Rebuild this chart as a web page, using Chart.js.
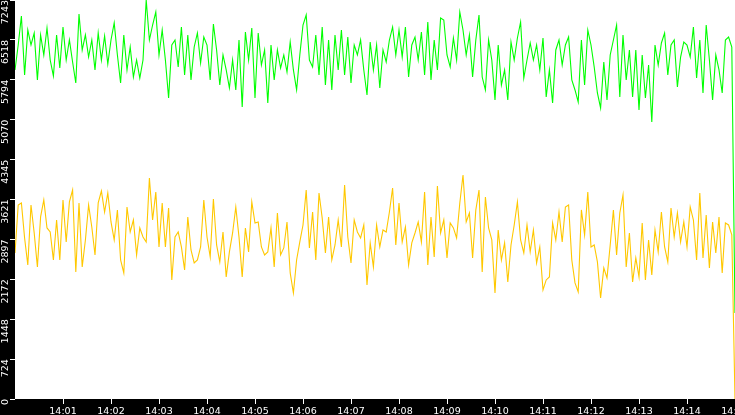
<!DOCTYPE html>
<html>
<head>
<meta charset="utf-8">
<script src="https://cdn.jsdelivr.net/npm/chart.js@4"></script>
<style>
  html, body { margin: 0; padding: 0; background: #000; overflow: hidden; }
  #wrap { width: 760px; height: 415px; position: relative; }
</style>
</head>
<body>
<div id="wrap"><canvas id="chart"></canvas></div>
<script>
// one sample every 4 s, 14:00:00 -> 14:15:00
const STEP_SECONDS = 4;
const Y_MAX = 7243;

const Y_TICK_LABELS = ['0','724','1448','2172','2897','3621','4345','5070','5794','6518','7243'];
const X_TICK_SECONDS = [60,120,180,240,300,360,420,480,540,600,660,720,780,840,900];
const X_TICK_LABELS = ['14:01','14:02','14:03','14:04','14:05','14:06','14:07','14:08','14:09','14:10','14:11','14:12','14:13','14:14','14:15'];

const GREEN_VALUES = [
  5973, 6426, 6953, 5882, 6698, 6426, 6644, 5791, 6608, 6245,
  6735, 6154, 5864, 6608, 6009, 6753, 6154, 6517, 6118, 5737,
  6989, 6336, 6608, 6208, 6517, 5973, 6644, 6154, 6590, 6081,
  6517, 6826, 6245, 5737, 6608, 5973, 6390, 5845, 6154, 5827,
  6154, 7243, 6517, 6789, 7025, 6245, 6698, 6154, 5464, 6426,
  6517, 6027, 6753, 5882, 6608, 5791, 6390, 6644, 6100, 6571,
  6426, 5791, 6807, 6336, 5700, 6245, 5973, 5646, 6154, 5610,
  6517, 5301, 6662, 6154, 6735, 5464, 6644, 6063, 6336, 5374,
  6426, 5791, 6336, 6009, 6245, 5936, 6481, 5973, 5610, 6245,
  6789, 6971, 6154, 6027, 6608, 5882, 6753, 5700, 6517, 5610,
  6608, 5973, 6698, 5882, 6571, 5737, 6426, 6245, 6517, 5973,
  5519, 6481, 5973, 6426, 5646, 6336, 6118, 6517, 6753, 6245,
  6698, 6208, 6753, 5845, 6426, 6571, 6154, 6662, 5882, 6844,
  5791, 6517, 5973, 6916, 6880, 6245, 6027, 6553, 6154, 7025,
  6698, 6245, 6608, 5845, 6517, 6971, 5845, 5610, 6517, 6154,
  5428, 6426, 5700, 5973, 5428, 6481, 6154, 6553, 6844, 5827,
  6154, 6463, 6154, 6426, 5973, 6553, 5482, 5973, 5374, 6336,
  6517, 6063, 6426, 6571, 5791, 5610, 5392, 6517, 5700, 6698,
  6426, 6027, 5555, 5283, 6118, 5428, 6245, 6517, 6789, 5482,
  6608, 5791, 6336, 5482, 6336, 5247, 6245, 5464, 6063, 5029,
  6426, 6063, 6463, 6644, 5882, 6426, 6517, 5664, 6208, 6481,
  6426, 6208, 6753, 5827, 6517, 5555, 6789, 6154, 5428, 6245,
  5973, 5555, 6517, 6571, 6390, 1560
];

const YELLOW_VALUES = [
  2651, 3522, 3559, 2923, 2433, 3522, 3014, 2397, 3305, 3613,
  3105, 3032, 2524, 3250, 2524, 3613, 2851, 3577, 3794, 2306,
  3559, 2397, 2887, 3522, 3123, 2615, 3559, 3776, 3395, 3740,
  3214, 2887, 3432, 2524, 2288, 3486, 3032, 3250, 2615, 3105,
  2941, 2851, 4012, 3250, 3758, 2760, 3559, 2760, 3468, 2161,
  2941, 3032, 2760, 2343, 3305, 2706, 2470, 2524, 2760, 3613,
  2941, 2579, 3631, 2796, 2488, 3032, 2216, 2670, 3014, 3486,
  2941, 2216, 3105, 2670, 3577, 3195, 3214, 2760, 2615, 2670,
  3105, 2397, 3377, 2615, 2742, 3214, 2288, 1924, 2524, 2851,
  3159, 3794, 2742, 3395, 2524, 3740, 3286, 2651, 3305, 2524,
  2796, 3250, 2760, 3885, 2941, 2470, 3250, 3032, 2923, 3159,
  2070, 2833, 2397, 3159, 2760, 3068, 3032, 3395, 3831, 2796,
  3559, 2851, 3123, 2433, 2833, 3014, 3214, 2851, 3758, 2433,
  3305, 2579, 3867, 3014, 3250, 2561, 3195, 3105, 2923, 3559,
  4067, 3214, 3377, 2561, 3432, 3794, 2306, 3667, 3105, 2887,
  1924, 3068, 2524, 2833, 2125, 2796, 3159, 3577, 2887, 2651,
  3159, 2670, 3068, 2470, 2760, 1979, 2161, 2216, 3195, 2887,
  3395, 2851, 3486, 3522, 2524, 2107, 1943, 3432, 2978, 3758,
  2760, 2796, 2488, 1834, 2379, 2197, 2796, 3432, 2615, 3377,
  3704, 2397, 3014, 2125, 2561, 2216, 3195, 2161, 2887, 2252,
  3068, 2670, 3395, 2760, 2488, 3468, 2941, 3377, 2851, 3214,
  2760, 3486, 3250, 2524, 3740, 2561, 3341, 2379, 3214, 2651,
  3305, 2288, 3195, 3159, 2978, 0
];

const toPoints = values => values.map((v, i) => ({ x: i * STEP_SECONDS, y: v }));

// white plot area on a black page
const plotBackground = {
  id: 'plotBackground',
  beforeDraw(chart) {
    const { ctx, chartArea: { left, top, width, height } } = chart;
    ctx.save();
    ctx.fillStyle = '#fff';
    ctx.fillRect(left, top, width, height);
    ctx.restore();
  },
};

const AXIS_FONT = { family: "'DejaVu Sans', sans-serif", size: 9.5 };

new Chart(document.getElementById('chart'), {
  type: 'line',
  data: {
    datasets: [
      {
        data:        toPoints(GREEN_VALUES),
        borderColor: '#00ff00',
        borderWidth: 1.1,
        pointRadius: 0,
        tension:     0,
      },
      {
        data:        toPoints(YELLOW_VALUES),
        borderColor: '#ffc800',
        borderWidth: 1.1,
        pointRadius: 0,
        tension:     0,
      },
    ],
  },
  options: {
    responsive:          true,
    maintainAspectRatio: false,
    animation:           false,
    devicePixelRatio:    1,
    layout: { padding: { left: 0, right: 25, top: 0, bottom: 0 } },
    plugins: {
      legend:  { display: false },
      tooltip: { enabled: false },
    },
    scales: {
      x: {
        type: 'linear',
        min:  0,
        max:  900,
        afterBuildTicks: s => { s.ticks = X_TICK_SECONDS.map(v => ({ value: v })); },
        afterFit: s => { s.height = 16; s.paddingLeft = 0; s.paddingRight = 0; },
        ticks: {
          color:       '#fff',
          font:        AXIS_FONT,
          padding:     2,
          maxRotation: 0,
          autoSkip:    false,
          callback:    (v, i) => X_TICK_LABELS[i],
        },
        grid:   { drawOnChartArea: false, tickLength: 5, color: '#fff', tickColor: '#fff' },
        border: { display: false },
      },
      y: {
        min: 0,
        max: Y_MAX,
        afterBuildTicks: s => { s.ticks = Y_TICK_LABELS.map((_, i) => ({ value: i * Y_MAX / 10 })); },
        afterFit: s => { s.width = 15; s.paddingTop = 0; s.paddingBottom = 0; },
        ticks: {
          color:       '#fff',
          font:        AXIS_FONT,
          padding:     4,
          minRotation: 90,
          maxRotation: 90,
          callback:    (v, i) => Y_TICK_LABELS[i],
        },
        grid:   { drawOnChartArea: false, tickLength: 5, color: '#fff', tickColor: '#fff' },
        border: { display: false },
      },
    },
  },
  plugins: [plotBackground],
});
</script>
</body>
</html>
